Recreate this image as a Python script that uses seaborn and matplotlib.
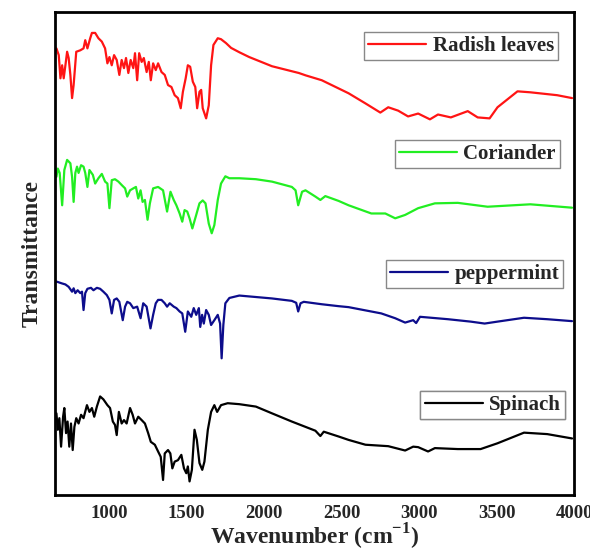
import pandas as pd
import matplotlib
matplotlib.use("Agg")
import matplotlib.pyplot as plt
import seaborn as sns

# FTIR spectra (wavenumber in cm-1, transmittance in a.u.)
radish_wn = [660, 675, 686, 697, 707, 718, 729, 739, 750, 761, 771, 788, 814, 835, 846, 860,
             878, 889, 910, 931, 953, 974, 989, 1002, 1017, 1032, 1049, 1066, 1081, 1096, 1109,
             1124, 1139, 1156, 1167, 1181, 1194, 1210, 1224, 1242, 1256, 1269, 1284, 1301, 1316,
             1338, 1359, 1380, 1402, 1423, 1444, 1462, 1476, 1494, 1508, 1523, 1540, 1556, 1568,
             1583, 1594, 1604, 1626, 1643, 1658, 1673, 1701, 1722, 1754, 1787, 1840, 1904, 2051,
             2224, 2269, 2372, 2545, 2654, 2750, 2801, 2865, 2929, 2994, 3070, 3122, 3205, 3314,
             3378, 3455, 3506, 3635, 3718, 3891, 3987]
radish_t = [92.5, 91.1, 86.3, 89.0, 86.3, 89.0, 91.8, 90.5, 87.0, 82.2, 84.9, 91.8, 92.1, 92.5,
            94.2, 92.5, 94.6, 95.7, 95.7, 94.6, 93.9, 92.5, 89.4, 90.7, 89.0, 91.1, 90.1, 87.0,
            90.1, 88.4, 90.5, 87.4, 90.1, 88.4, 91.5, 85.9, 91.5, 89.7, 90.5, 87.6, 89.7, 85.9,
            89.4, 88.0, 89.4, 87.6, 87.0, 84.9, 84.5, 82.8, 82.2, 80.1, 83.5, 86.3, 89.0, 88.7,
            85.6, 84.5, 80.1, 83.5, 83.9, 80.1, 78.0, 80.7, 89.0, 93.2, 94.6, 94.4, 93.6, 92.6,
            91.7, 90.7, 88.8, 87.4, 86.9, 85.9, 83.2, 81.1, 79.2, 80.3, 79.6, 78.4, 79.0, 77.8,
            78.8, 78.2, 79.5, 78.2, 78.0, 80.3, 83.6, 83.4, 82.8, 82.2]

coriander_wn = [660, 669, 681, 697, 711, 729, 750, 761, 771, 782, 793, 803, 819, 835, 846, 860,
                873, 895, 910, 931, 953, 974, 989, 1002, 1017, 1038, 1060, 1081, 1103, 1117, 1135,
                1156, 1173, 1188, 1203, 1216, 1231, 1248, 1263, 1284, 1316, 1348, 1374, 1396, 1417,
                1434, 1455, 1472, 1487, 1504, 1519, 1537, 1562, 1583, 1604, 1622, 1643, 1662, 1679,
                1701, 1722, 1750, 1776, 1840, 1947, 2051, 2179, 2203, 2220, 2245, 2267, 2331, 2363,
                2395, 2481, 2545, 2692, 2782, 2846, 2910, 2994, 3102, 3250, 3442, 3718, 3987]
coriander_t = [65.9, 67.6, 66.7, 60.0, 67.3, 69.4, 68.7, 65.9, 60.7, 66.7, 68.0, 66.7, 68.3, 68.0,
               66.7, 63.8, 67.3, 66.3, 64.5, 65.6, 66.5, 64.9, 64.5, 59.4, 65.2, 65.4, 64.9, 64.2,
               63.5, 61.8, 63.1, 63.5, 63.8, 61.4, 63.1, 60.7, 61.1, 57.0, 60.4, 63.5, 63.8, 63.1,
               58.7, 62.8, 61.1, 60.0, 58.3, 56.6, 59.0, 58.7, 57.3, 55.2, 58.0, 60.4, 61.0, 60.4,
               56.2, 54.2, 55.9, 61.1, 64.5, 66.0, 65.6, 65.6, 65.4, 64.9, 63.8, 63.1, 60.0, 62.8,
               63.1, 61.8, 61.1, 61.9, 60.9, 60.0, 58.3, 58.3, 57.3, 58.0, 59.4, 60.4, 60.5, 59.7,
               60.2, 59.5]

peppermint_wn = [660, 697, 718, 739, 761, 771, 782, 797, 814, 825, 835, 846, 860, 883, 899, 921,
                 942, 963, 985, 1002, 1017, 1032, 1049, 1066, 1088, 1103, 1117, 1135, 1156, 1181,
                 1203, 1220, 1242, 1267, 1284, 1301, 1316, 1338, 1359, 1374, 1391, 1417, 1434, 1455,
                 1472, 1491, 1508, 1530, 1546, 1562, 1579, 1588, 1600, 1611, 1626, 1643, 1658, 1679,
                 1701, 1716, 1726, 1737, 1750, 1776, 1840, 2051, 2179, 2207, 2220, 2235, 2256, 2372,
                 2481, 2545, 2756, 2846, 2910, 2962, 2981, 3006, 3186, 3333, 3423, 3506, 3677, 3827,
                 3987]
peppermint_t = [44.2, 43.8, 43.6, 43.1, 42.1, 42.8, 41.8, 42.4, 41.8, 42.1, 38.3, 41.8, 42.7, 42.9,
                42.4, 42.9, 42.7, 42.1, 41.4, 40.4, 37.6, 40.4, 40.7, 40.0, 36.2, 39.0, 40.0, 39.7,
                38.7, 39.0, 36.6, 39.7, 39.0, 34.5, 37.3, 39.7, 40.4, 40.4, 39.7, 39.0, 39.7, 39.0,
                38.7, 38.0, 37.6, 33.8, 38.0, 36.9, 38.7, 37.3, 38.7, 34.8, 37.3, 35.5, 38.3, 37.3,
                35.2, 36.2, 37.3, 35.5, 28.3, 35.2, 39.7, 40.8, 41.3, 40.7, 40.2, 39.8, 38.0, 39.7,
                40.0, 39.5, 39.1, 38.9, 37.6, 36.6, 35.7, 36.2, 35.6, 36.9, 36.4, 35.9, 35.5, 35.9,
                36.7, 36.4, 36.0]

spinach_wn = [660, 669, 679, 690, 703, 711, 722, 732, 743, 754, 765, 776, 788, 803, 819, 835, 857,
              873, 889, 904, 921, 942, 963, 989, 1006, 1024, 1038, 1049, 1063, 1081, 1096, 1113,
              1135, 1152, 1167, 1188, 1210, 1231, 1252, 1269, 1295, 1316, 1333, 1348, 1359, 1380,
              1395, 1408, 1423, 1444, 1466, 1483, 1498, 1508, 1519, 1534, 1551, 1566, 1583, 1601,
              1615, 1637, 1658, 1679, 1697, 1722, 1765, 1840, 1947, 2051, 2179, 2331, 2363, 2385,
              2481, 2545, 2654, 2801, 2910, 2962, 2994, 3058, 3102, 3250, 3397, 3506, 3677, 3827,
              3987]
spinach_t = [16.9, 13.5, 15.9, 10.0, 16.2, 18.0, 12.8, 15.2, 10.0, 14.8, 9.3, 14.1, 15.9, 14.8,
             16.6, 15.9, 18.6, 17.2, 18.0, 16.2, 18.3, 20.4, 19.8, 18.6, 18.0, 15.2, 14.5, 12.4,
             17.2, 14.8, 15.5, 14.8, 18.0, 16.6, 14.8, 16.2, 15.5, 14.8, 12.8, 11.0, 10.4, 9.0,
             7.9, 3.1, 8.6, 9.3, 8.6, 5.5, 6.9, 7.2, 8.3, 5.5, 4.5, 5.9, 2.8, 5.2, 13.5, 11.4,
             6.6, 5.2, 6.9, 13.5, 17.2, 18.6, 17.2, 18.6, 19.0, 18.8, 18.3, 16.9, 15.2, 13.3,
             12.2, 13.1, 12.1, 11.4, 10.4, 10.1, 9.2, 10.0, 9.9, 9.0, 9.7, 9.5, 9.5, 10.7, 12.9,
             12.6, 11.7]

samples = ["Radish leaves", "Coriander", "peppermint", "Spinach"]
colors = ["#ff1414", "#22ee22", "#0d0d8c", "#000000"]

frames = []
for name, wn, t in zip(samples,
                       [radish_wn, coriander_wn, peppermint_wn, spinach_wn],
                       [radish_t, coriander_t, peppermint_t, spinach_t]):
    frames.append(pd.DataFrame({"wavenumber": wn, "T": t, "sample": name}))
df = pd.concat(frames, ignore_index=True)

sns.set_style("white")
plt.rcParams["font.family"] = ["Liberation Serif", "DejaVu Serif"]
plt.rcParams["font.weight"] = "bold"
plt.rcParams["mathtext.fontset"] = "custom"
plt.rcParams["mathtext.rm"] = "Liberation Serif:bold"
plt.rcParams["mathtext.bf"] = "Liberation Serif:bold"

fig = plt.figure(figsize=(5.9, 5.53), dpi=100)
ax = fig.add_axes([0.093, 0.105, 0.880, 0.873])

sns.lineplot(data=df, x="wavenumber", y="T", hue="sample", palette=colors,
             hue_order=samples, estimator=None, sort=False, linewidth=1.6, ax=ax)

ax.set_xlim(650, 3990)
ax.set_ylim(0, 100)
ax.set_xticks([1000, 1500, 2000, 2500, 3000, 3500, 4000])
ax.set_yticks([])
ax.tick_params(axis="x", direction="in", length=6, width=2, labelsize=13.5, pad=7)
for lab in ax.get_xticklabels():
    lab.set_fontweight("bold")
for sp in ax.spines.values():
    sp.set_linewidth(2)
    sp.set_color("black")

ax.set_xlabel("Wavenumber (cm$^{\\mathbf{-1}}$)", fontsize=17, fontweight="bold", labelpad=0)
ax.set_ylabel("Transmittance", fontsize=17, fontweight="bold", labelpad=9)

handles, labels = ax.get_legend_handles_labels()
ax.get_legend().remove()
anchors = [(0.969, 0.959), (0.973, 0.735), (0.979, 0.487), (0.983, 0.215)]
for h, lab, anc in zip(handles, labels, anchors):
    leg = ax.legend([h], [lab], loc="upper right", bbox_to_anchor=anc, borderaxespad=0,
                    fancybox=False, framealpha=1, edgecolor="#888888", handlelength=2.8,
                    handletextpad=0.3, borderpad=0.2,
                    prop={"family": "Liberation Serif", "weight": "bold", "size": 15})
    leg.get_frame().set_linewidth(1.0)
    ax.add_artist(leg)

fig.savefig("out.png", dpi=100)
